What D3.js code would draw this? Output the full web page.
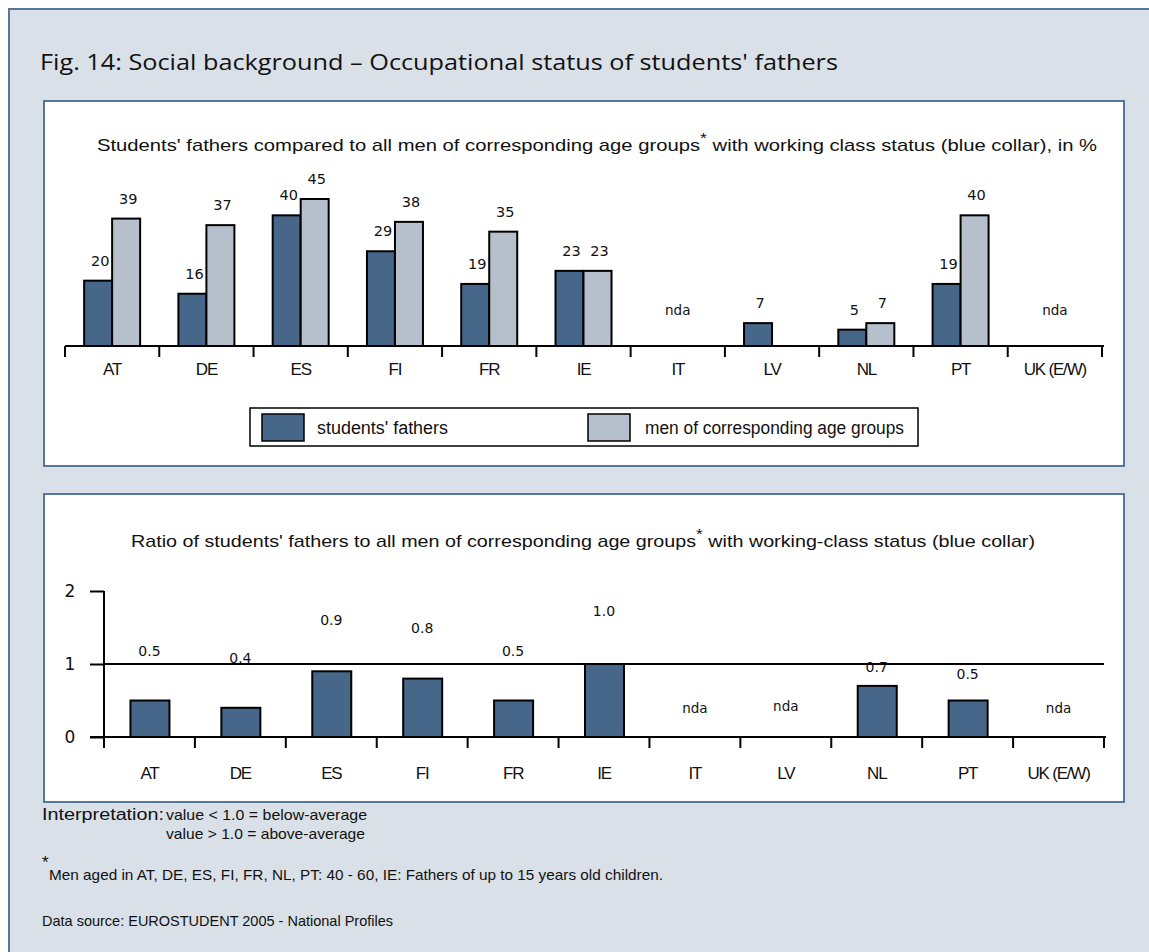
<!DOCTYPE html>
<html>
<head>
<meta charset="utf-8">
<script src="https://cdn.jsdelivr.net/npm/d3@7"></script>
<style>
  body { margin: 0; background: #fff; }
  svg { display: block; }
</style>
</head>
<body>
<script>
// Countries covered by the survey
const countries = ["AT", "DE", "ES", "FI", "FR", "IE", "IT", "LV", "NL", "PT", "UK (E/W)"];
// Share with working-class status (blue collar), in %
const fathersShare = [20, 16, 40, 29, 19, 23, null, 7, 5, 19, null];
const menShare     = [39, 37, 45, 38, 35, 23, null, null, 7, 40, null];
// Ratio fathers / all men of corresponding age groups
const ratioValues  = [0.5, 0.4, 0.9, 0.8, 0.5, 1.0, null, null, 0.7, 0.5, null];
const ratioTicks   = [0, 1, 2];
const seriesNames  = ["students' fathers", "men of corresponding age groups"];

const W = 1149, H = 952;
const C = {
  frame: "#d9e0e7", border: "#56779a",
  dark: "#46678a", light: "#b5c0cc", ink: "#111"
};
const fontLabel = "'Liberation Sans', Arial, sans-serif";
const fontNum = "'DejaVu Sans', Verdana, sans-serif";
const fontTitle = "'Open Sans', 'DejaVu Sans', sans-serif";

const svg = d3.select("body").append("svg").attr("width", W).attr("height", H);

// outer frame
svg.append("rect").attr("x", 9).attr("y", 9).attr("width", W + 20).attr("height", H + 20)
  .attr("fill", C.frame).attr("stroke", C.border).attr("stroke-width", 2);

svg.append("text").attr("x", 40).attr("y", 70)
  .attr("font-family", fontTitle).attr("font-size", 21).attr("fill", C.ink)
  .attr("textLength", 798).attr("lengthAdjust", "spacingAndGlyphs")
  .text("Fig. 14: Social background \u2013 Occupational status of students' fathers");

function panel(y, h) {
  svg.append("rect").attr("x", 44).attr("y", y).attr("width", 1080).attr("height", h)
    .attr("fill", "#fff").attr("stroke", C.border).attr("stroke-width", 2);
}
function subtitle(x, y, len, before, after) {
  const t = svg.append("text").attr("x", x).attr("y", y)
    .attr("font-family", fontLabel).attr("font-size", 17).attr("fill", C.ink)
    .attr("textLength", len).attr("lengthAdjust", "spacingAndGlyphs");
  t.append("tspan").text(before);
  t.append("tspan").attr("dy", -8).attr("font-size", 15).text("*");
  t.append("tspan").attr("dy", 8).text(after);
}
// text squeezed or stretched to a fixed width
function fitText(parent, x, y, len, str, size) {
  return parent.append("text").attr("x", x).attr("y", y)
    .attr("font-family", fontLabel).attr("font-size", size).attr("fill", C.ink)
    .attr("textLength", len).attr("lengthAdjust", "spacingAndGlyphs").text(str);
}

/* ---------- upper chart: shares in % ---------- */
panel(101, 365);
subtitle(97, 151, 1000, "Students' fathers compared to all men of corresponding age groups",
  " with working class status (blue collar), in %");

const x1 = d3.scaleBand().domain(countries).range([65, 1102]);
const inner = d3.scaleBand().domain([0, 1]).range([0, 56]);
const y1 = d3.scaleLinear().domain([0, 45]).range([346, 199]);

const rows1 = countries.map((c, i) => ({ c, vals: [fathersShare[i], menShare[i]] }));
const g1 = svg.append("g");
rows1.forEach(r => {
  const x0 = x1(r.c) + x1.bandwidth() / 2 - 28;
  r.vals.forEach((v, k) => {
    if (v == null) return;
    g1.append("rect")
      .attr("x", x0 + inner(k)).attr("y", y1(v))
      .attr("width", inner.bandwidth()).attr("height", y1(0) - y1(v))
      .attr("fill", k === 0 ? C.dark : C.light)
      .attr("stroke", "#000").attr("stroke-width", 2);
    g1.append("text")
      .attr("x", x0 + inner(k) + inner.bandwidth() / 2 + 2).attr("y", y1(v) - 15)
      .attr("text-anchor", "middle").attr("font-family", fontNum).attr("font-size", 14.5)
      .attr("fill", C.ink).text(v);
  });
  if (r.vals.every(v => v == null)) {
    g1.append("text").attr("x", x1(r.c) + x1.bandwidth() / 2).attr("y", 315)
      .attr("text-anchor", "middle").attr("font-family", fontNum).attr("font-size", 13.5)
      .attr("fill", C.ink).text("nda");
  }
});

// category axis with ticks between groups
function categoryAxis(xs, yBase, left, labelY) {
  const ax = svg.append("g").attr("transform", `translate(0,${yBase})`)
    .call(d3.axisBottom(xs).tickSize(0).tickPadding(labelY - yBase - 13));
  ax.select(".domain").remove();
  ax.selectAll("text").attr("font-family", fontLabel).attr("font-size", 17)
    .attr("letter-spacing", -1.2).attr("fill", C.ink);
  svg.append("line").attr("x1", left).attr("x2", xs.range()[1] + 2)
    .attr("y1", yBase).attr("y2", yBase).attr("stroke", "#000").attr("stroke-width", 2);
  const bounds = xs.domain().map(d => xs(d)).concat([xs.range()[1]]);
  svg.append("g").selectAll("line").data(bounds).join("line")
    .attr("x1", d => d).attr("x2", d => d)
    .attr("y1", yBase).attr("y2", yBase + 11)
    .attr("stroke", "#000").attr("stroke-width", 2);
}
categoryAxis(x1, 346, 65, 376);

// legend
const lg = svg.append("g");
lg.append("rect").attr("x", 250).attr("y", 408).attr("width", 668).attr("height", 38)
  .attr("fill", "#fff").attr("stroke", "#000").attr("stroke-width", 1.5);
[[262, 317, 131], [588, 645, 259]].forEach(([sx, tx, len], k) => {
  lg.append("rect").attr("x", sx).attr("y", 414).attr("width", 42).attr("height", 27)
    .attr("fill", k === 0 ? C.dark : C.light).attr("stroke", "#000").attr("stroke-width", 1.5);
  fitText(lg, tx, 434, len, seriesNames[k], 18);
});

/* ---------- lower chart: ratio ---------- */
panel(494, 308);
subtitle(131, 547, 904, "Ratio of students' fathers to all men of corresponding age groups",
  " with working-class status (blue collar)");

const x2 = d3.scaleBand().domain(countries).range([104, 1104]);
const y2 = d3.scaleLinear().domain([0, 2]).range([737, 591]);
// distance of each value label above its bar
const ratioLabelGap = [45, 45, 46, 46, 45, 48, 0, 0, 14, 22, 0];

// reference line at ratio 1
svg.append("line").attr("x1", 104).attr("x2", 1104)
  .attr("y1", y2(1)).attr("y2", y2(1)).attr("stroke", "#000").attr("stroke-width", 2);

const g2 = svg.append("g");
countries.forEach((c, i) => {
  const v = ratioValues[i];
  const cx = x2(c) + x2.bandwidth() / 2;
  if (v == null) {
    g2.append("text").attr("x", cx).attr("y", c === "LV" ? 711 : 713)
      .attr("text-anchor", "middle").attr("font-family", fontNum).attr("font-size", 13.5)
      .attr("fill", C.ink).text("nda");
    return;
  }
  g2.append("rect").attr("x", cx - 19).attr("y", y2(v))
    .attr("width", 39).attr("height", y2(0) - y2(v))
    .attr("fill", C.dark).attr("stroke", "#000").attr("stroke-width", 2);
  g2.append("text").attr("x", cx).attr("y", y2(v) - ratioLabelGap[i])
    .attr("text-anchor", "middle").attr("font-family", fontNum).attr("font-size", 14)
    .attr("fill", C.ink).text(d3.format(".1f")(v));
});

// value axis
const ay = svg.append("g").attr("transform", "translate(104,0)")
  .call(d3.axisLeft(y2).tickValues(ratioTicks).tickFormat(d3.format("d")).tickSize(14).tickPadding(20));
ay.select(".domain").attr("stroke", "#000").attr("stroke-width", 2).attr("d", `M0,${y2(2)}V${y2(0) + 11}`);
ay.selectAll(".tick line").attr("stroke", "#000").attr("stroke-width", 2);
ay.selectAll("text").attr("font-family", fontNum).attr("font-size", 17).attr("fill", C.ink)
  .attr("text-anchor", "middle").attr("x", -34);

categoryAxis(x2, 737, 90, 780);

/* ---------- notes ---------- */
const notes = svg.append("g");
fitText(notes, 42, 820, 122, "Interpretation:", 16);
fitText(notes, 166, 820, 201, "value < 1.0 = below-average", 15);
fitText(notes, 166, 839, 199, "value > 1.0 = above-average", 15);
notes.append("text").attr("x", 42).attr("y", 868).attr("font-family", fontLabel)
  .attr("font-size", 17).attr("fill", C.ink).text("*");
fitText(notes, 49, 880, 614,
  "Men aged in AT, DE, ES, FI, FR, NL, PT: 40 - 60, IE: Fathers of up to 15 years old children.", 15);
fitText(notes, 42, 926, 351, "Data source: EUROSTUDENT 2005 - National Profiles", 15);
</script>
</body>
</html>
